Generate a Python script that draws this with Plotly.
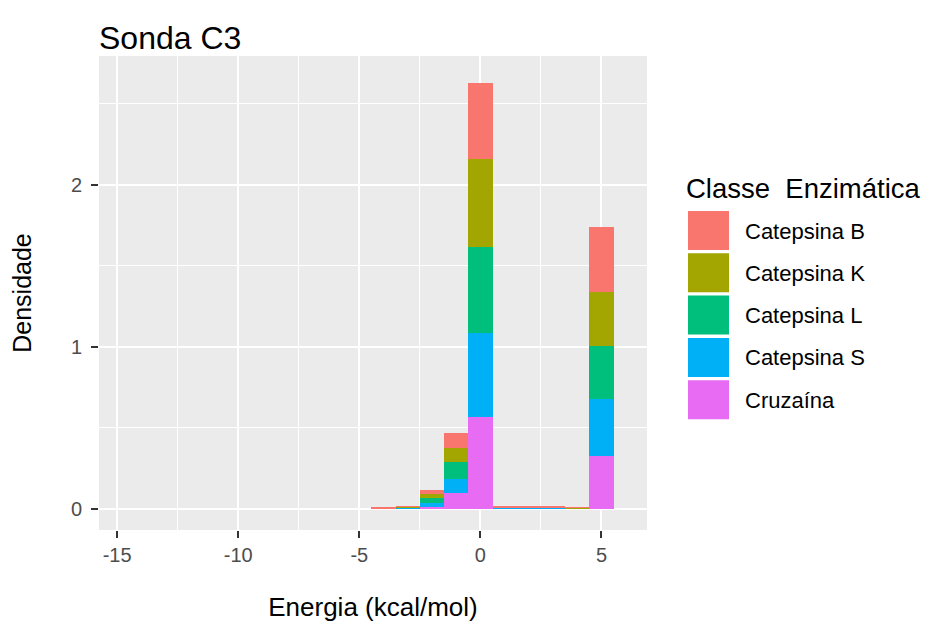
import plotly.graph_objects as go

# Histogram bin centres (binwidth = 1 kcal/mol) and per-class densities
energia_bins = [-4, -3, -2, -1, 0, 1, 2, 3, 4, 5]
classes = ["Catepsina B", "Catepsina K", "Catepsina L", "Catepsina S", "Cruzaína"]
densidade = {
    "Catepsina B": [0.001, 0.002, 0.020, 0.093, 0.473, 0.002, 0.002, 0.003, 0.001, 0.397],
    "Catepsina K": [0.001, 0.002, 0.027, 0.086, 0.540, 0.002, 0.002, 0.002, 0.001, 0.334],
    "Catepsina L": [0.001, 0.003, 0.030, 0.103, 0.531, 0.002, 0.002, 0.002, 0.001, 0.329],
    "Catepsina S": [0.001, 0.003, 0.027, 0.090, 0.522, 0.002, 0.002, 0.002, 0.001, 0.352],
    "Cruzaína":    [0.001, 0.003, 0.010, 0.095, 0.564, 0.004, 0.003, 0.003, 0.002, 0.325],
}
cores = ["#F8766D", "#A3A500", "#00BF7D", "#00B0F6", "#E76BF3"]
x_ticks = [-15, -10, -5, 0, 5]
y_ticks = [0, 1, 2]

W, H = 927, 629
L, R, T, B = 99, 280, 56, 99
FONT = "Liberation Sans, Arial, sans-serif"

def px_x(p):
    return (p - L) / (W - L - R)

def px_y(p):
    return (H - B - p) / (H - T - B)

fig = go.Figure()
# stacked from the bottom: Cruzaína first, Catepsina B on top
for nome, cor in reversed(list(zip(classes, cores))):
    fig.add_trace(go.Bar(
        x=energia_bins, y=densidade[nome], name=nome, width=1,
        marker=dict(color=cor, line=dict(width=0)), showlegend=False,
    ))

fig.update_layout(
    width=W, height=H, barmode="stack", bargap=0,
    margin=dict(l=L, r=R, t=T, b=B, pad=0),
    paper_bgcolor="white", plot_bgcolor="#EBEBEB",
    font=dict(family=FONT, color="#000000"),
    title=dict(text="Sonda C3", x=0, xref="paper", xanchor="left",
               y=1 - 38 / H, yanchor="middle", font=dict(size=32, color="#000000")),
    xaxis=dict(
        range=[-15.75, 6.88], tickvals=x_ticks, ticktext=[str(v) for v in x_ticks],
        showgrid=True, gridcolor="white", gridwidth=2, zeroline=False,
        minor=dict(dtick=2.5, tick0=0, showgrid=True, gridcolor="white", gridwidth=1),
        ticks="outside", ticklen=7, tickwidth=1.5, tickcolor="#333333",
        tickfont=dict(size=20, color="#4D4D4D"),
        title=dict(text="Energia (kcal/mol)", font=dict(size=26, color="#000000"), standoff=32),
        showline=False,
    ),
    yaxis=dict(
        range=[-0.131, 2.794], tickvals=y_ticks, ticktext=[str(v) for v in y_ticks],
        showgrid=True, gridcolor="white", gridwidth=2, zeroline=False,
        minor=dict(dtick=0.5, tick0=0, showgrid=True, gridcolor="white", gridwidth=1),
        ticks="outside", ticklen=7, tickwidth=1.5, tickcolor="#333333",
        tickfont=dict(size=20, color="#4D4D4D"), ticklabelstandoff=5,
        title=dict(text="Densidade", font=dict(size=25, color="#000000"), standoff=32),
        showline=False,
    ),
)

# Legend: title, colour keys and labels
fig.add_annotation(text="Classe\u00a0 Enzimática", xref="paper", yref="paper",
                   x=px_x(684), y=px_y(188), xanchor="left", yanchor="middle",
                   showarrow=False, font=dict(size=27.5, color="#000000"))
for i, (nome, cor) in enumerate(zip(classes, cores)):
    y0 = 211 + 42.3 * i
    fig.add_shape(type="rect", xref="paper", yref="paper",
                  x0=px_x(688), x1=px_x(729), y0=px_y(y0 + 39), y1=px_y(y0),
                  fillcolor=cor, line=dict(width=0))
    fig.add_annotation(text=nome, xref="paper", yref="paper",
                       x=px_x(743), y=px_y(y0 + 20), xanchor="left", yanchor="middle",
                       showarrow=False, font=dict(size=22, color="#000000"))

fig.write_html("out.html")
